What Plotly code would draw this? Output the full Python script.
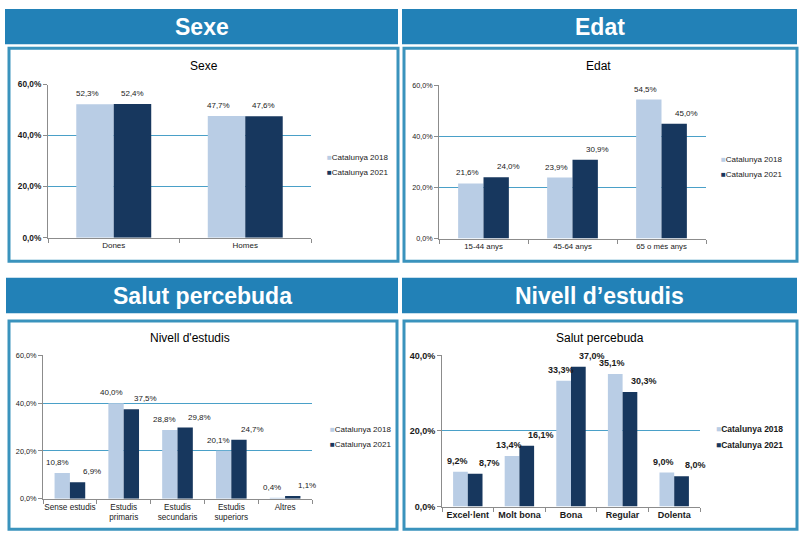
import plotly.graph_objects as go

# ---------------- data ----------------
series_names = ["Catalunya 2018", "Catalunya 2021"]

sexe_cats = ["Dones", "Homes"]
sexe_2018 = [52.3, 47.7]
sexe_2021 = [52.4, 47.6]

edat_cats = ["15-44 anys", "45-64 anys", "65 o més anys"]
edat_2018 = [21.6, 23.9, 54.5]
edat_2021 = [24.0, 30.9, 45.0]

estudis_cats = ["Sense estudis", "Estudis<br>primaris", "Estudis<br>secundaris",
                "Estudis<br>superiors", "Altres"]
estudis_2018 = [10.8, 40.0, 28.8, 20.1, 0.4]
estudis_2021 = [6.9, 37.5, 29.8, 24.7, 1.1]

salut_cats = ["Excel·lent", "Molt bona", "Bona", "Regular", "Dolenta"]
salut_2018 = [9.2, 13.4, 33.3, 35.1, 9.0]
salut_2021 = [8.7, 16.1, 37.0, 30.3, 8.0]

header_titles = ["Sexe", "Edat", "Salut percebuda", "Nivell d’estudis"]
chart_titles = ["Sexe", "Edat", "Nivell d'estudis", "Salut percebuda"]

ticks_60 = [0, 20, 40, 60]
ticks_40 = [0, 20, 40]

# ---------------- style ----------------
W, H = 800, 542
FONT = "Arial, Liberation Sans, sans-serif"
C_LIGHT = "#b9cde5"
C_DARK = "#17375e"
C_HEADER = "#2281b7"
C_BORDER = "#3a93bd"
C_GRID = "#4aa0c8"
C_AXIS = "#8c8c8c"
C_TEXT = "#1a1a1a"
BW = 0.285


def px_x(v):
    return v / W


def px_y(v):
    return 1 - v / H


def fmt(v):
    return f"{v:.1f}".replace(".", ",") + "%"


panels = [
    dict(cats=sexe_cats, s1=sexe_2018, s2=sexe_2021, ticks=ticks_60,
         header=(5, 4, 398, 40), box=(9, 44, 398, 261),
         plot=(48, 81, 311, 237), title_xy=(204, 62), legend_xy=(325, 155),
         bold=True, tick_size=8.3, cat_size=8, lab_size=8, leg_size=8,
         lab_bold=False, cat_bold=False, shifts=(-8, 0)),
    dict(cats=edat_cats, s1=edat_2018, s2=edat_2021, ticks=ticks_60,
         header=(402, 4, 797, 40), box=(404, 44, 797, 261),
         plot=(439, 82, 706, 238), title_xy=(598, 62), legend_xy=(719, 157),
         bold=False, tick_size=7.2, cat_size=7.8, lab_size=8, leg_size=8,
         lab_bold=False, cat_bold=False, shifts=(-3, 12)),
    dict(cats=estudis_cats, s1=estudis_2018, s2=estudis_2021, ticks=ticks_60,
         header=(6, 278, 398, 314), box=(9, 322, 397, 534),
         plot=(43, 357, 312, 503), title_xy=(190, 339), legend_xy=(328, 432),
         bold=False, tick_size=7.3, cat_size=8.2, lab_size=8, leg_size=8,
         lab_bold=False, cat_bold=False, shifts=(-5, 14)),
    dict(cats=salut_cats, s1=salut_2018, s2=salut_2021, ticks=ticks_40,
         header=(402, 278, 797, 314), box=(404, 322, 797, 534),
         plot=(442, 357, 700, 511), title_xy=(600, 339), legend_xy=(714, 432),
         bold=True, tick_size=9, cat_size=9, lab_size=9, leg_size=8.5,
         lab_bold=True, cat_bold=True, shifts=(-3, 14)),
]

fig = go.Figure()
shapes = []
annotations = []
layout_axes = {}


def b(text, on):
    return f"<b>{text}</b>" if on else text


for k, p in enumerate(panels):
    n = len(p["cats"])
    idx = list(range(n))
    xa = "x" if k == 0 else f"x{k+1}"
    ya = "y" if k == 0 else f"y{k+1}"
    xkey = "xaxis" if k == 0 else f"xaxis{k+1}"
    ykey = "yaxis" if k == 0 else f"yaxis{k+1}"

    fig.add_trace(go.Bar(x=idx, y=p["s1"], width=BW, offset=-BW, marker_color=C_LIGHT,
                         marker_line_width=0, name=series_names[0], showlegend=False,
                         xaxis=xa, yaxis=ya))
    fig.add_trace(go.Bar(x=idx, y=p["s2"], width=BW, offset=0, marker_color=C_DARK,
                         marker_line_width=0, name=series_names[1], showlegend=False,
                         xaxis=xa, yaxis=ya))

    x0, y0, x1, y1 = p["plot"]
    layout_axes[xkey] = dict(
        domain=[px_x(x0), px_x(x1)], anchor=ya, range=[-0.5, n - 0.5],
        tickmode="array", tickvals=idx,
        ticktext=[b(c, p["cat_bold"]) for c in p["cats"]],
        ticks="", showgrid=False, zeroline=False, showline=True,
        linecolor=C_AXIS, linewidth=1, fixedrange=True,
        tickfont=dict(family=FONT, size=p["cat_size"], color=C_TEXT),
        minor=dict(tickmode="array", tickvals=[i - 0.5 for i in range(n + 1)],
                   ticks="outside", ticklen=4, tickcolor=C_AXIS, tickwidth=1,
                   showgrid=False),
    )
    layout_axes[ykey] = dict(
        domain=[px_y(y1), px_y(y0)], anchor=xa, range=[0, p["ticks"][-1]],
        tickmode="array", tickvals=p["ticks"],
        ticktext=[b(fmt(t), p["bold"]) for t in p["ticks"]],
        ticks="outside", ticklen=4, tickcolor=C_AXIS, showgrid=True,
        gridcolor=C_GRID, gridwidth=1, zeroline=False, showline=True,
        linecolor=C_AXIS, linewidth=1, fixedrange=True,
        tickfont=dict(family=FONT, size=p["tick_size"], color=C_TEXT),
    )

    # data labels
    for i, v in enumerate(p["s1"]):
        annotations.append(dict(x=i - BW / 2, y=v, xref=xa, yref=ya, text=b(fmt(v), p["lab_bold"]),
                                showarrow=False, yanchor="bottom", xanchor="center",
                                xshift=p["shifts"][0], yshift=4,
                                font=dict(family=FONT, size=p["lab_size"], color=C_TEXT)))
    for i, v in enumerate(p["s2"]):
        annotations.append(dict(x=i + BW / 2, y=v, xref=xa, yref=ya, text=b(fmt(v), p["lab_bold"]),
                                showarrow=False, yanchor="bottom", xanchor="center",
                                xshift=p["shifts"][1], yshift=4,
                                font=dict(family=FONT, size=p["lab_size"], color=C_TEXT)))

    # header bar
    hx0, hy0, hx1, hy1 = p["header"]
    shapes.append(dict(type="rect", xref="paper", yref="paper",
                       x0=px_x(hx0), x1=px_x(hx1), y0=px_y(hy1), y1=px_y(hy0),
                       fillcolor=C_HEADER, line=dict(width=0), layer="below"))
    annotations.append(dict(x=px_x((hx0 + hx1) / 2), y=px_y((hy0 + hy1) / 2 + 0.5),
                            xref="paper", yref="paper", text=f"<b>{header_titles[k]}</b>",
                            showarrow=False, xanchor="center", yanchor="middle",
                            font=dict(family=FONT, size=23, color="white")))
    # box
    bx0, by0, bx1, by1 = p["box"]
    shapes.append(dict(type="rect", xref="paper", yref="paper",
                       x0=px_x(bx0), x1=px_x(bx1), y0=px_y(by1), y1=px_y(by0),
                       fillcolor="rgba(0,0,0,0)", line=dict(width=3, color=C_BORDER),
                       layer="below"))
    # chart title
    tx, ty = p["title_xy"]
    annotations.append(dict(x=px_x(tx), y=px_y(ty), xref="paper", yref="paper",
                            text=chart_titles[k], showarrow=False, xanchor="center",
                            yanchor="middle", font=dict(family=FONT, size=12, color="#000")))
    # legend
    lx, ly = p["legend_xy"]
    for j, (nm, col) in enumerate(zip(series_names, [C_LIGHT, C_DARK])):
        annotations.append(dict(x=px_x(lx), y=px_y(ly + j * 16), xref="paper", yref="paper",
                                text=f'<span style="color:{col}">■</span>' + b(nm, p["lab_bold"]),
                                showarrow=False, xanchor="left", yanchor="middle",
                                font=dict(family=FONT, size=p["leg_size"], color=C_TEXT)))

fig.update_layout(
    width=W, height=H, margin=dict(l=0, r=0, t=0, b=0),
    paper_bgcolor="white", plot_bgcolor="white",
    barmode="overlay", showlegend=False, hovermode=False,
    shapes=shapes, annotations=annotations,
    font=dict(family=FONT, color=C_TEXT),
    **layout_axes,
)

fig.write_html(
    "out.html",
    config={"displayModeBar": False, "staticPlot": True},
    post_script="document.body.style.margin='0';document.body.style.overflow='hidden';",
)
